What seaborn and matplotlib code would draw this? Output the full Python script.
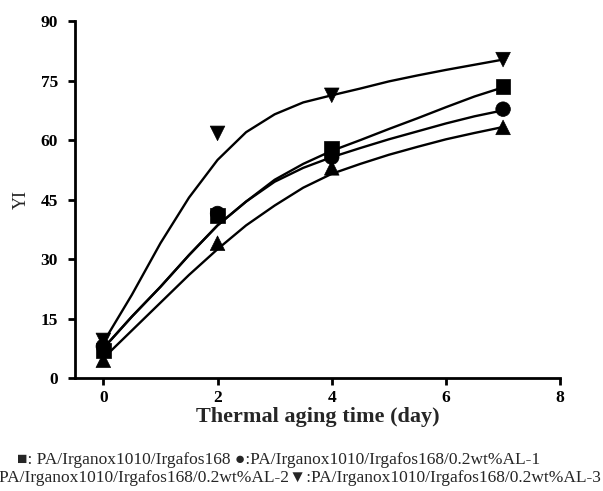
import numpy as np
import pandas as pd
import matplotlib
matplotlib.use("Agg")
import matplotlib.pyplot as plt
import seaborn as sns

# Measured points
days = [0, 2, 4, 7]
yi_base = [7.0, 41.0, 58.0, 73.5]     # square
yi_al1 = [8.0, 41.5, 55.7, 67.8]      # circle
yi_al2 = [4.5, 34.0, 53.0, 63.2]      # triangle up
yi_al3 = [9.5, 61.7, 71.3, 80.3]      # triangle down

# Fitted curves
curve_x = [0, 0.5, 1, 1.5, 2, 2.5, 3, 3.5, 4, 4.5, 5, 5.5, 6, 6.5, 7]
curve_base = [7.5, 15.5, 23, 31, 38.5, 44.5, 50, 54, 57.3, 60, 62.8, 65.5, 68.3, 71, 73.3]
curve_al1 = [7.5, 15.5, 23, 31, 38.5, 44.5, 49.5, 53, 55.7, 58, 60.2, 62.2, 64.2, 66, 67.5]
curve_al2 = [5, 12, 19, 26, 32.5, 38.5, 43.5, 48, 51.5, 54, 56.3, 58.3, 60.2, 61.8, 63.3]
curve_al3 = [9, 21, 34, 45.5, 55, 62, 66.5, 69.5, 71.3, 73, 74.8, 76.3, 77.7, 79, 80.3]

series_names = ["base", "AL-1", "AL-2", "AL-3"]
markers = {"base": "s", "AL-1": "o", "AL-2": "^", "AL-3": "v"}

pts = pd.DataFrame({
    "day": days * 4,
    "YI": yi_base + yi_al1 + yi_al2 + yi_al3,
    "s": sum([[n] * len(days) for n in series_names], []),
})
curves = pd.DataFrame({
    "day": curve_x * 4,
    "YI": curve_base + curve_al1 + curve_al2 + curve_al3,
    "s": sum([[n] * len(curve_x) for n in series_names], []),
})

sns.set_style("ticks")
plt.rcParams["font.family"] = ["Liberation Serif", "DejaVu Serif"]

fig = plt.figure(figsize=(6.03, 4.91), dpi=100)
ax = fig.add_axes([0.124, 0.230, 0.805, 0.727])

pal = {n: "black" for n in series_names}
sns.lineplot(data=curves, x="day", y="YI", hue="s", palette=pal, ax=ax,
             legend=False, linewidth=1.7, estimator=None, sort=False)
sns.scatterplot(data=pts, x="day", y="YI", hue="s", style="s", markers=markers,
                palette=pal, ax=ax, legend=False, s=110, edgecolor="black",
                linewidth=0.5, zorder=3)

ax.set_xlim(-0.5, 8)
ax.set_ylim(0, 90)
ax.set_xticks([0, 2, 4, 6, 8])
ax.set_yticks([0, 15, 30, 45, 60, 75, 90])
for sp in ["top", "right"]:
    ax.spines[sp].set_visible(False)
for sp in ["left", "bottom"]:
    ax.spines[sp].set_linewidth(2)
    ax.spines[sp].set_color("black")
ax.tick_params(axis="both", direction="out", width=2, length=5, colors="black",
               labelsize=12.5)
ax.tick_params(axis="y", pad=7)
for lab in ax.get_xticklabels() + ax.get_yticklabels():
    lab.set_fontweight("bold")

ax.set_xlabel("Thermal aging time (day)", fontsize=16, fontweight="bold", labelpad=1)
ax.set_ylabel("YI", fontsize=13, labelpad=8)

fig.text(0.462, 0.063,
         "\u25A0: PA/Irganox1010/Irgafos168 \u25CF:PA/Irganox1010/Irgafos168/0.2wt%AL-1",
         ha="center", va="center", fontsize=12.5,
         family=["Liberation Serif", "DejaVu Sans"])
fig.text(0.997, 0.026,
         "\u25B2:PA/Irganox1010/Irgafos168/0.2wt%AL-2\u25BC:PA/Irganox1010/Irgafos168/0.2wt%AL-3",
         ha="right", va="center", fontsize=12.5,
         family=["Liberation Serif", "DejaVu Sans"])

fig.savefig("out.png", dpi=100, facecolor="white")
